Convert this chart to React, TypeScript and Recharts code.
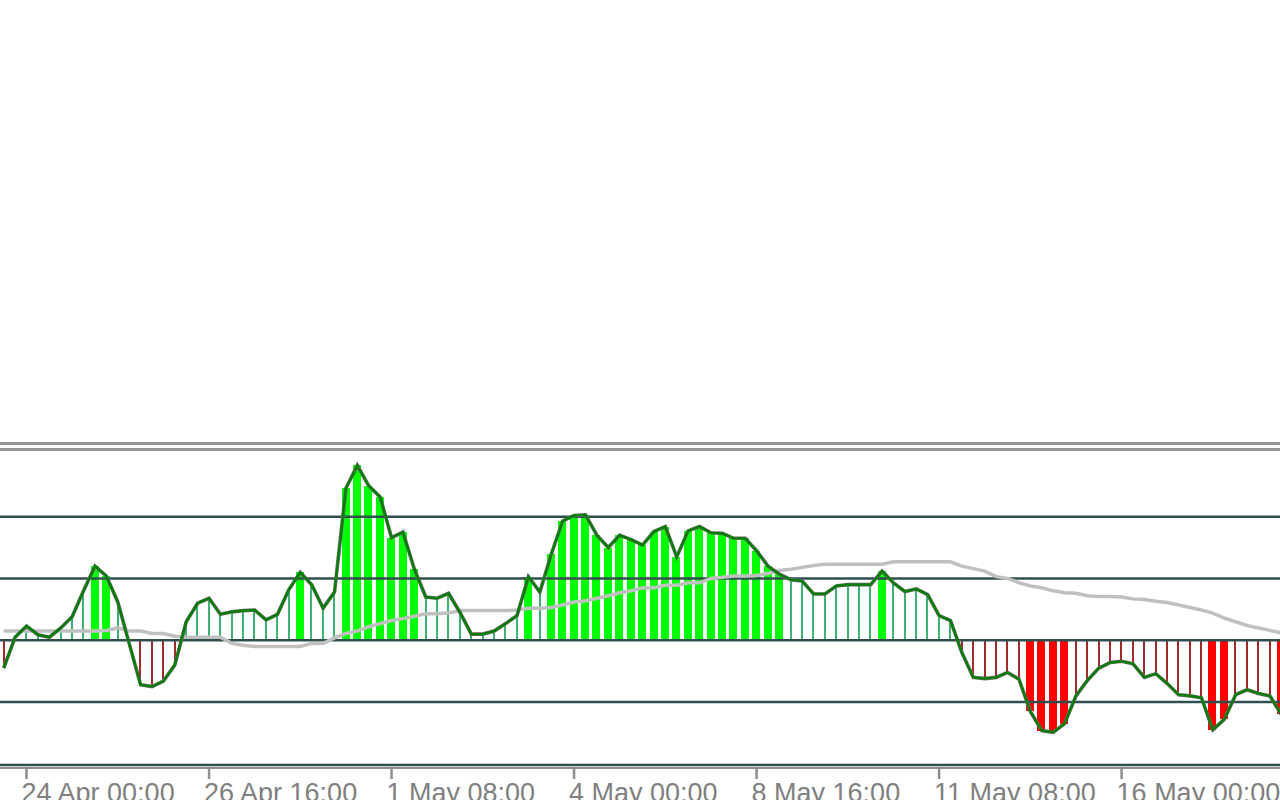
import React from 'react';
import { ComposedChart, Bar, Line, XAxis, YAxis, ReferenceLine } from 'recharts';

// H4 bars, oldest first
const hist = [
    -0.45, 0.05, 0.23, 0.09, 0.05, 0.2, 0.38, 0.8, 1.2, 1.04,
    0.62, -0.05, -0.72, -0.75, -0.66, -0.4, 0.3, 0.6, 0.68, 0.42,
    0.46, 0.48, 0.49, 0.33, 0.42, 0.82, 1.1, 0.9, 0.52, 0.78,
    2.46, 2.83, 2.5, 2.32, 1.66, 1.75, 1.15, 0.7, 0.68, 0.76,
    0.45, 0.1, 0.1, 0.15, 0.27, 0.4, 1.03, 0.78, 1.39, 1.93,
    2.02, 2.03, 1.7, 1.5, 1.7, 1.63, 1.54, 1.76, 1.84, 1.35,
    1.77, 1.84, 1.74, 1.73, 1.65, 1.65, 1.45, 1.2, 1.07, 0.98,
    0.96, 0.75, 0.75, 0.88, 0.9, 0.9, 0.9, 1.12, 0.93, 0.79,
    0.83, 0.74, 0.4, 0.32, -0.2, -0.6, -0.62, -0.6, -0.52, -0.63,
    -1.15, -1.46, -1.49, -1.35, -0.9, -0.65, -0.45, -0.36, -0.34, -0.38,
    -0.6, -0.54, -0.7, -0.88, -0.9, -0.93, -1.45, -1.28, -0.88, -0.8,
    -0.86, -0.9, -1.2,
];

const signal = [
    0.15, 0.15, 0.15, 0.15, 0.15, 0.15, 0.15, 0.15, 0.15, 0.16,
    0.2, 0.15, 0.15, 0.11, 0.11, 0.065, 0.05, 0.05, 0.05, 0.05,
    -0.05, -0.08, -0.1, -0.1, -0.1, -0.1, -0.1, -0.05, -0.05, 0.04,
    0.11, 0.15, 0.22, 0.27, 0.32, 0.35, 0.39, 0.43, 0.43, 0.44,
    0.48, 0.48, 0.48, 0.48, 0.48, 0.49, 0.52, 0.52, 0.53, 0.57,
    0.62, 0.64, 0.68, 0.72, 0.77, 0.8, 0.85, 0.85, 0.89, 0.89,
    0.93, 0.93, 1.0, 1.02, 1.04, 1.04, 1.05, 1.08, 1.13, 1.15,
    1.18, 1.21, 1.23, 1.23, 1.23, 1.23, 1.23, 1.23, 1.27, 1.27,
    1.27, 1.27, 1.27, 1.27, 1.2, 1.16, 1.12, 1.03, 1.0, 0.93,
    0.88, 0.85, 0.8, 0.77, 0.76, 0.72, 0.71, 0.71, 0.7, 0.67,
    0.66, 0.63, 0.61, 0.57, 0.53, 0.49, 0.44, 0.36, 0.3, 0.24,
    0.2, 0.16, 0.12,
];

const levels = [2, 1, 0, -1];
const tickBars = [2, 18, 34, 50, 66, 82, 98];
const tickLabels = [
    '24 Apr 00:00', '26 Apr 16:00', '1 May 08:00', '4 May 00:00',
    '8 May 16:00', '11 May 08:00', '16 May 00:00',
];

const data = hist.map((h, i) => ({ bar: i, hist: h, signal: signal[i] }));

const HistBar = (props: any) => {
    const { x, y, width, height, payload } = props;
    const v = payload.hist;
    const strong = Math.abs(v) >= 1;
    const w = strong ? 8.4 : 2;
    const fill = v >= 0 ? (strong ? '#00FF00' : '#3CB371') : (strong ? '#FF0000' : '#A52A2A');
    const top = Math.min(y, y + height);
    const left = Math.round(x + width / 2 - w / 2);
    return <rect x={left} y={top} width={Math.round(w)} height={Math.abs(height)} fill={fill} shapeRendering="crispEdges" />;
};

const TimeTick = (props: any) => {
    const { x, y, payload } = props;
    const label = tickLabels[tickBars.indexOf(payload.value)];
    return (
        <g>
            <line x1={x} x2={x} y1={y + 2} y2={y + 14} stroke="#8e8e8e" strokeWidth={2.5} />
            <text x={x - 5} y={y + 37} textAnchor="start" fill="#808080"
                style={{ fontFamily: '"Liberation Sans", Arial, sans-serif', fontSize: 27 }}>
                {label}
            </text>
        </g>
    );
};

export default function App() {
    return (
        <div style={{ position: 'absolute', left: 0, top: 0, width: 1280, height: 800, overflow: 'hidden', background: '#fff' }}>
            <div style={{ position: 'absolute', left: 0, top: 442, width: 1280, height: 2.7, background: '#969696' }} />
            <div style={{ position: 'absolute', left: 0, top: 448, width: 1280, height: 2.7, background: '#969696' }} />
            <div style={{ position: 'absolute', left: 0, top: 766.5, width: 1280, height: 2.5, background: '#8e8e8e' }} />
            <div style={{ position: 'absolute', left: -2, top: 450 }}>
                <ComposedChart width={1289} height={350} data={data} barCategoryGap={0}
                    margin={{ top: 0, right: 0, bottom: 0, left: 0 }}>
                    <XAxis
                        dataKey="bar"
                        type="category"
                        ticks={tickBars}
                        interval={0}
                        height={35}
                        tickSize={0}
                        tickMargin={0}
                        tickLine={false}
                        axisLine={{ stroke: '#2F4F4F', strokeWidth: 2.5 }}
                        tick={<TimeTick />}
                    />
                    <YAxis hide type="number" domain={[-2.018, 3.079]} allowDataOverflow />
                    <Bar dataKey="hist" shape={<HistBar />} isAnimationActive={false} />
                    {levels.map((lv) => (
                        <ReferenceLine key={lv} y={lv} stroke="#2F4F4F" strokeWidth={2.5} />
                    ))}
                    <Line type="linear" dataKey="signal" stroke="#C0C0C0" strokeWidth={3.5} dot={false} activeDot={false} isAnimationActive={false} />
                    <Line type="linear" dataKey="hist" stroke="#666666" strokeWidth={3.6} dot={false} activeDot={false} isAnimationActive={false} />
                    <Line type="linear" dataKey="hist" stroke="#008000" strokeWidth={2.2} dot={false} activeDot={false} isAnimationActive={false} />
                </ComposedChart>
            </div>
        </div>
    );
}
